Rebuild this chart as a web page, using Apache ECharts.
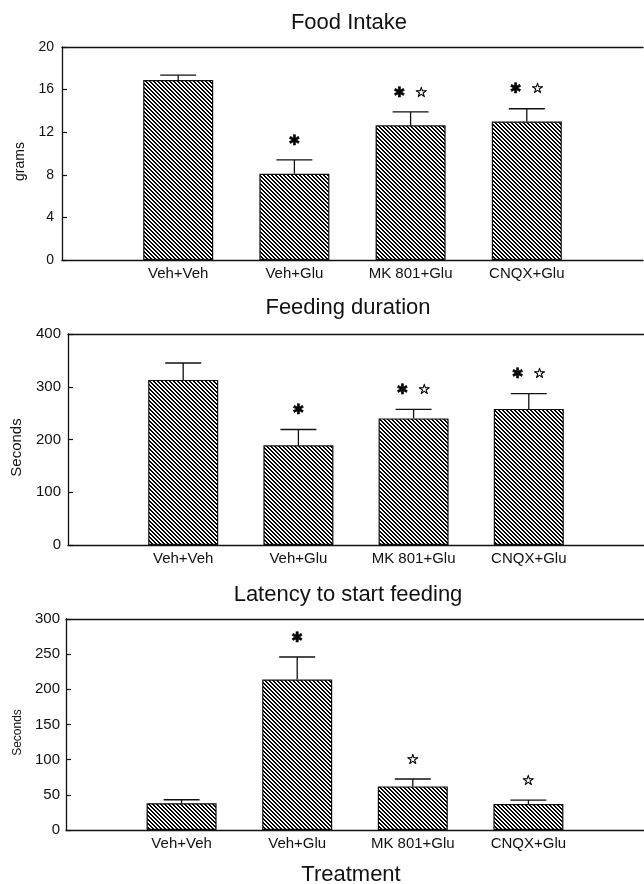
<!DOCTYPE html>
<html>
<head>
<meta charset="utf-8">
<script src="https://cdn.jsdelivr.net/npm/echarts@6/dist/echarts.min.js"></script>
<style>
html,body{margin:0;padding:0;background:#fff;}
#c{width:644px;height:884px;}
</style>
</head>
<body>
<div id="c"></div>
<script>
// ---- data ----
const categories = ['Veh+Veh', 'Veh+Glu', 'MK 801+Glu', 'CNQX+Glu'];

const foodMean = [16.9, 8.1, 12.65, 13.0];
const foodSem  = [0.45, 1.3, 1.25, 1.2];
const foodSig  = ['', '✱', '✱  ☆', '✱  ☆'];
const foodTicks = [0, 4, 8, 12, 16, 20];

const durMean = [313, 189, 240, 258];
const durSem  = [32, 30, 17, 29];
const durSig  = ['', '✱', '✱  ☆', '✱  ☆'];
const durTicks = [0, 100, 200, 300, 400];

const latMean = [38, 214, 62, 37];
const latSem  = [5, 32, 10.5, 5.6];
const latSig  = ['', '✱', '☆', '☆'];
const latTicks = [0, 50, 100, 150, 200, 250, 300];

const titles = ['Food Intake', 'Feeding duration', 'Latency to start feeding'];
const yNames = ['grams', 'Seconds', 'Seconds'];
const xTitle = 'Treatment';

// ---- hatch pattern ----
function hatch() {
  const s = 4;
  const c = document.createElement('canvas');
  c.width = s; c.height = s;
  const ctx = c.getContext('2d');
  ctx.fillStyle = '#fff';
  ctx.fillRect(0, 0, s, s);
  ctx.fillStyle = '#000';
  for (let y = 0; y < s; y++) {
    for (let x = 0; x < s; x++) {
      if (((x - y) % s + s) % s < 2) ctx.fillRect(x, y, 1, 1);
    }
  }
  return c;
}
const pattern = { image: hatch(), repeat: 'repeat' };

const FONT = 'Liberation Sans, Arial, sans-serif';
const INK = '#111';

const panels = [
  { mean: foodMean, sem: foodSem, sig: foodSig, ticks: foodTicks,
    grid: { left: 62, top: 47, width: 581, height: 213 }, tickFont: 14, nameFont: 14, nameGap: 32, labelMargin: 8 },
  { mean: durMean, sem: durSem, sig: durSig, ticks: durTicks,
    grid: { left: 68, top: 334, width: 576, height: 211 }, tickFont: 15, nameFont: 15, nameGap: 44, labelMargin: 7 },
  { mean: latMean, sem: latSem, sig: latSig, ticks: latTicks,
    grid: { left: 66, top: 619, width: 578, height: 211 }, tickFont: 15, nameFont: 12, nameGap: 41, labelMargin: 6 }
];

const grid = [], xAxis = [], yAxis = [], series = [];
panels.forEach((p, i) => {
  grid.push(Object.assign({ outerBoundsMode: 'none', containLabel: false }, p.grid));
  xAxis.push({
    type: 'value', gridIndex: i, min: 0, max: categories.length + 1, interval: 1,
    axisLine: { show: true, lineStyle: { color: INK, width: 1.3 } },
    axisTick: { show: false }, splitLine: { show: false },
    axisLabel: {
      margin: 6, color: INK, fontFamily: FONT, fontSize: 15,
      formatter: v => (v >= 1 && v <= categories.length) ? categories[v - 1] : ''
    }
  });
  xAxis.push({
    type: 'value', gridIndex: i, position: 'top', min: 0, max: categories.length + 1,
    axisLine: { show: true, lineStyle: { color: INK, width: 1.3 } },
    axisTick: { show: false }, splitLine: { show: false }, axisLabel: { show: false }
  });
  const t = p.ticks;
  yAxis.push({
    type: 'value', gridIndex: i, min: t[0], max: t[t.length - 1], interval: t[1] - t[0],
    name: yNames[i], nameLocation: 'middle', nameGap: p.nameGap, nameRotate: 90,
    nameTextStyle: { fontFamily: FONT, fontSize: p.nameFont, color: INK, padding: [0, 16, 0, 0] },
    axisLine: { show: true, lineStyle: { color: INK, width: 1.3 } },
    axisTick: { show: true, inside: true, length: 5, lineStyle: { color: INK, width: 1.2 } },
    splitLine: { show: false },
    axisLabel: { margin: p.labelMargin, color: INK, fontFamily: FONT, fontSize: p.tickFont }
  });
  series.push({
    type: 'bar', xAxisIndex: i * 2, yAxisIndex: i, barWidth: 70,
    data: p.mean.map((m, k) => [k + 1, m]),
    itemStyle: { color: pattern, borderColor: INK, borderWidth: 1.2 },
    silent: true, animation: false
  });
  series.push({
    type: 'custom', xAxisIndex: i * 2, yAxisIndex: i, z: 5,
    data: p.mean.map((m, k) => [k + 1, m, m + p.sem[k]]),
    renderItem: (params, api) => {
      const x = api.value(0);
      const base = api.coord([x, api.value(1)]);
      const top = api.coord([x, api.value(2)]);
      const txt = p.sig[params.dataIndex];
      const children = [
        { type: 'line', shape: { x1: base[0], y1: base[1], x2: top[0], y2: top[1] },
          style: { stroke: INK, lineWidth: 1.3 } },
        { type: 'line', shape: { x1: top[0] - 18, y1: top[1], x2: top[0] + 18, y2: top[1] },
          style: { stroke: INK, lineWidth: 1.3 } }
      ];
      if (txt) {
        children.push({ type: 'text', x: top[0], y: top[1] - 19,
          style: { text: txt, fill: '#000', stroke: '#000', lineWidth: 0.6,
                   font: 'bold 14px "DejaVu Sans"', align: 'center', verticalAlign: 'middle' } });
      }
      return { type: 'group', children };
    },
    silent: true, animation: false
  });
});

const chart = echarts.init(document.getElementById('c'), null, { renderer: 'canvas' });
chart.setOption({
  backgroundColor: '#fff',
  animation: false,
  title: [
    { text: titles[0], left: 344, top: 7, textAlign: 'center', textStyle: { fontFamily: FONT, fontSize: 22, fontWeight: 'normal', color: INK } },
    { text: titles[1], left: 343, top: 292, textAlign: 'center', textStyle: { fontFamily: FONT, fontSize: 22, fontWeight: 'normal', color: INK } },
    { text: titles[2], left: 343, top: 579, textAlign: 'center', textStyle: { fontFamily: FONT, fontSize: 22, fontWeight: 'normal', color: INK } },
    { text: xTitle, left: 346, top: 859, textAlign: 'center', textStyle: { fontFamily: FONT, fontSize: 22, fontWeight: 'normal', color: INK } }
  ],
  grid, xAxis, yAxis, series
});
</script>
</body>
</html>
